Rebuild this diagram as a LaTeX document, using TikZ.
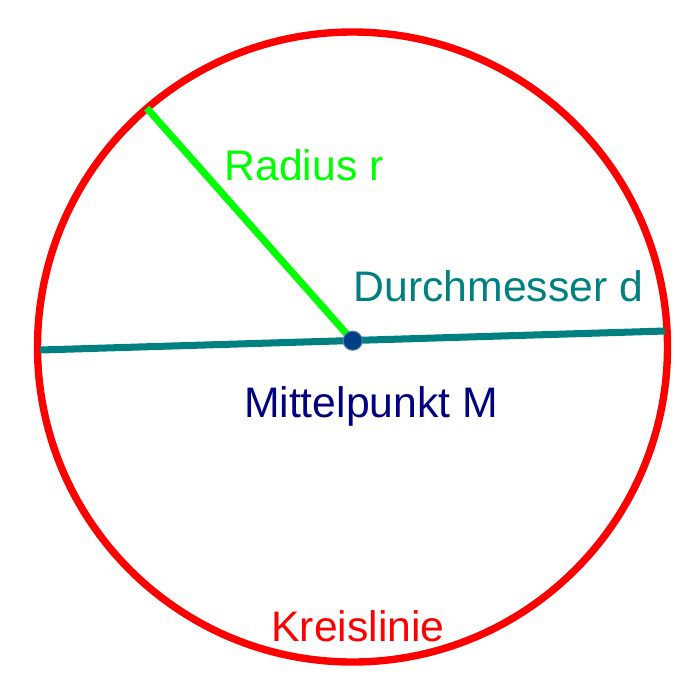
\documentclass[tikz,border=0pt]{standalone}
\usepackage{fontspec}
\setmainfont{Liberation Sans}
\usepackage{xcolor}
\definecolor{kreis}{HTML}{FF0000}
\definecolor{radius}{HTML}{00FF00}
\definecolor{durchmesser}{HTML}{008080}
\definecolor{mitte}{HTML}{000080}
\definecolor{punkt}{HTML}{003F87}
\tikzset{labeltext/.style={font=\fontsize{24.3}{25}\selectfont, anchor=base, inner sep=0pt}}
\tikzset{punktdot/.style={circle, fill=punkt, draw=punkt!70!white, line width=0.6pt, inner sep=0pt, minimum size=0.38cm}}

\begin{document}
\begin{tikzpicture}[x=0.02cm,y=-0.02cm]
		\useasboundingbox (0,0) rectangle (700,698);
		\begin{scope}
			%kreislinie
			\draw [color=kreis, line width=4.2pt] (352.5,347) circle (315);
			\node[labeltext, text=kreis] (klabel) at (358,641.7) {Kreislinie};
		\end{scope}
		\begin{scope}
			%points
			\coordinate (M) at (352.7,340.7);
			\coordinate (A) at (40,350);
			\coordinate (B) at (665,331);
			\coordinate (R) at (146.7,108);
			%durchmesser
			\draw [color=durchmesser, line width=4pt] (A) -- (B);
			\node[labeltext, text=durchmesser] (dlabel) at (498.3,301.7) {Durchmesser d};
			%radius
			\draw [color=radius, line width=4pt] (M) -- (R);
			\node[labeltext, text=radius] (rlabel) at (304,180) {Radius r};
			%mittelpunkt
			\node[punktdot] (Mdot) at (M) {};
			\node[labeltext, text=mitte] (mlabel) at (371,417) {Mittelpunkt M};
		\end{scope}
	\end{tikzpicture}
\end{document}
